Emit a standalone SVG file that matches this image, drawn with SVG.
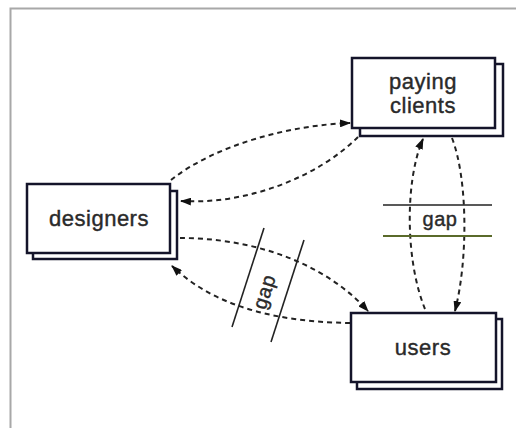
<svg xmlns="http://www.w3.org/2000/svg" width="516" height="428" viewBox="0 0 516 428">
<defs>
<style>
.box{fill:#fff;stroke:#14142a;stroke-width:2.5}
.sh{fill:#fff;stroke:#14142a;stroke-width:2.5}
.lbl{font-family:"Liberation Sans",Arial,sans-serif;font-size:22px;fill:#2a2a2a;stroke:#2a2a2a;stroke-width:0.4;text-anchor:middle;letter-spacing:0.5px}
.conn{fill:none;stroke:#222;stroke-width:2;stroke-dasharray:5 4}
.gapl{stroke:#222;stroke-width:1.6}
</style>
<marker id="ah" markerWidth="11" markerHeight="8" refX="10" refY="4" orient="auto" markerUnits="userSpaceOnUse">
<path d="M0,0 L11,4 L0,8 Z" fill="#111"/>
</marker>
</defs>
<rect width="516" height="428" fill="#fff"/>
<path d="M10.5,428 V8.5 H516" fill="none" stroke="#a8a8a8" stroke-width="2"/>

<g id="connectors">
<path class="conn" d="M171,180 C215,145 290,125 350,123" marker-end="url(#ah)"/>
<path class="conn" d="M358,137 C320,175 250,205 181,201" marker-end="url(#ah)"/>
<path class="conn" d="M180,238 C245,238 320,258 368,311" marker-end="url(#ah)"/>
<path class="conn" d="M350,323 C290,322 220,312 172,266" marker-end="url(#ah)"/>
<path class="conn" d="M425,309 C405,260 405,180 423,139" marker-end="url(#ah)"/>
<path class="conn" d="M452,138 C468,180 468,260 455,311" marker-end="url(#ah)"/>
</g>

<g id="gap-left">
<line class="gapl" x1="264" y1="228" x2="232" y2="327"/>
<line class="gapl" x1="304" y1="240" x2="271" y2="342"/>
<text class="lbl" style="font-size:20px" transform="translate(265,292) rotate(-72)" y="6">gap</text>
</g>

<g id="gap-right">
<line class="gapl" x1="383" y1="205" x2="492" y2="205"/>
<line x1="383" y1="236" x2="492" y2="236" stroke="#5a6a2a" stroke-width="1.8"/>
<text class="lbl" style="font-size:20px" x="440" y="226">gap</text>
</g>

<g id="paying-clients">
<rect class="sh" x="360" y="64" width="143" height="72"/>
<rect class="box" x="352" y="58" width="143" height="70"/>
<text class="lbl" x="423" y="89">paying</text>
<text class="lbl" x="423" y="113">clients</text>
</g>

<g id="designers">
<rect class="sh" x="33" y="191" width="144" height="68"/>
<rect class="box" x="27" y="184" width="143" height="69"/>
<text class="lbl" x="99" y="226">designers</text>
</g>

<g id="users">
<rect class="sh" x="357" y="319" width="145" height="70"/>
<rect class="box" x="351" y="313" width="145" height="69"/>
<text class="lbl" x="423" y="355">users</text>
</g>
</svg>
